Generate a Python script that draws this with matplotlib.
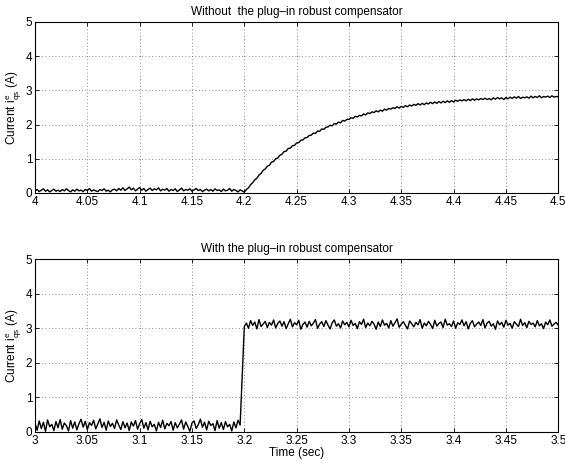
import matplotlib
matplotlib.use("Agg")
import matplotlib.pyplot as plt
import numpy as np
from matplotlib.ticker import FormatStrFormatter, MultipleLocator

plt.rcParams['font.family'] = ['Liberation Sans', 'DejaVu Sans']
plt.rcParams['mathtext.fontset'] = 'custom'
plt.rcParams['mathtext.rm'] = 'Liberation Sans'
plt.rcParams['mathtext.it'] = 'Liberation Sans'

# sample period of the recorded currents (sec)
dt = 0.002

# top: without compensator, starts at 4.0 s
t0_top = 4.0
i_top = [
    0.06, 0.10, 0.04, 0.08, 0.12, 0.05, 0.09, 0.03, 0.07, 0.11,
    0.05, 0.08, 0.04, 0.10, 0.06, 0.12, 0.07, 0.03, 0.09, 0.05,
    0.11, 0.06, 0.08, 0.04, 0.10, 0.07, 0.13, 0.05, 0.09, 0.06,
    0.04, 0.10, 0.07, 0.12, 0.05, 0.08, 0.03, 0.09, 0.11, 0.06,
    0.13, 0.08, 0.15, 0.07, 0.12, 0.17, 0.09, 0.14, 0.06, 0.11,
    0.16, 0.08, 0.13, 0.05, 0.10, 0.14, 0.07, 0.12, 0.09, 0.15,
    0.06, 0.11, 0.08, 0.13, 0.05, 0.10, 0.07, 0.12, 0.04, 0.09,
    0.14, 0.06, 0.10, 0.08, 0.12, 0.05, 0.09, 0.13, 0.07, 0.10,
    0.04, 0.08, 0.11, 0.06, 0.10, 0.05, 0.12, 0.07, 0.09, 0.04,
    0.11, 0.06, 0.08, 0.13, 0.05, 0.10, 0.07, 0.03, 0.09, 0.06,
    0.02, 0.10, 0.15, 0.24, 0.30, 0.38, 0.43, 0.52, 0.57, 0.66,
    0.70, 0.78, 0.81, 0.90, 0.92, 1.00, 1.02, 1.10, 1.13, 1.21,
    1.22, 1.30, 1.31, 1.38, 1.39, 1.46, 1.47, 1.54, 1.55, 1.61,
    1.62, 1.68, 1.69, 1.75, 1.74, 1.81, 1.80, 1.87, 1.86, 1.92,
    1.93, 1.98, 1.96, 2.03, 2.01, 2.07, 2.05, 2.12, 2.10, 2.15,
    2.15, 2.20, 2.18, 2.24, 2.22, 2.27, 2.25, 2.31, 2.28, 2.34,
    2.32, 2.37, 2.35, 2.40, 2.37, 2.42, 2.39, 2.45, 2.42, 2.47,
    2.45, 2.49, 2.47, 2.52, 2.48, 2.53, 2.50, 2.55, 2.52, 2.57,
    2.54, 2.59, 2.56, 2.61, 2.57, 2.62, 2.58, 2.63, 2.60, 2.65,
    2.61, 2.66, 2.62, 2.67, 2.63, 2.68, 2.64, 2.69, 2.65, 2.70,
    2.66, 2.71, 2.68, 2.72, 2.69, 2.73, 2.69, 2.74, 2.70, 2.75,
    2.71, 2.75, 2.72, 2.76, 2.73, 2.77, 2.73, 2.76, 2.72, 2.78,
    2.74, 2.79, 2.75, 2.78, 2.73, 2.79, 2.75, 2.80, 2.76, 2.81,
    2.77, 2.82, 2.76, 2.80, 2.78, 2.81, 2.77, 2.83, 2.78, 2.82,
    2.79, 2.84, 2.78, 2.82, 2.80, 2.83, 2.79, 2.84, 2.80, 2.82,
    2.81,
]

# bottom: with compensator, starts at 3.0 s
t0_bot = 3.0
i_bot = [
    0.25, 0.05, 0.32, 0.10, 0.28, 0.02, 0.35, 0.15, 0.22, 0.04,
    0.30, 0.12, 0.36, 0.08, 0.26, 0.18, 0.03, 0.33, 0.11, 0.29,
    0.06, 0.24, 0.37, 0.14, 0.31, 0.07, 0.27, 0.19, 0.34, 0.09,
    0.23, 0.38, 0.13, 0.28, 0.05, 0.32, 0.16, 0.25, 0.10, 0.35,
    0.20, 0.07, 0.30, 0.12, 0.26, 0.04, 0.29, 0.17, 0.33, 0.08,
    0.24, 0.36, 0.11, 0.27, 0.06, 0.31, 0.15, 0.22, 0.03, 0.28,
    0.13, 0.34, 0.09, 0.25, 0.18, 0.30, 0.05, 0.27, 0.12, 0.23,
    0.35, 0.08, 0.29, 0.16, 0.02, 0.26, 0.32, 0.10, 0.21, 0.37,
    0.14, 0.28, 0.06, 0.31, 0.19, 0.24, 0.04, 0.33, 0.11, 0.27,
    0.07, 0.30, 0.15, 0.22, 0.03, 0.29, 0.12, 0.34,
    0.20, 1.60, 3.05,
    3.15, 3.00, 3.22, 3.08, 3.18, 2.98, 3.25, 3.05, 3.12, 3.20,
    3.02, 3.17, 3.09, 3.24, 3.01, 3.14, 3.21, 3.06, 3.19, 2.99,
    3.13, 3.26, 3.04, 3.16, 3.10, 3.23, 2.97, 3.11, 3.18, 3.03,
    3.20, 3.07, 3.15, 3.25, 3.00, 3.12, 3.19, 3.05, 3.22, 3.09,
    2.98, 3.16, 3.24, 3.06, 3.13, 3.01, 3.21, 3.10, 3.17, 3.04,
    3.23, 3.08, 3.14, 2.99, 3.19, 3.11, 3.26, 3.02, 3.15, 3.07,
    3.20, 3.12, 2.97, 3.18, 3.05, 3.24, 3.09, 3.14, 3.01, 3.22,
    3.06, 3.16, 3.27, 3.03, 3.12, 3.19, 3.08, 2.98, 3.21, 3.13,
    3.04, 3.17, 3.10, 3.25, 3.00, 3.15, 3.07, 3.20, 3.11, 2.99,
    3.23, 3.06, 3.14, 3.18, 3.02, 3.26, 3.09, 3.13, 3.05, 3.21,
    3.00, 3.16, 3.11, 3.24, 3.07, 3.19, 2.98, 3.14, 3.22, 3.04,
    3.12, 3.18, 3.08, 3.25, 3.01, 3.15, 3.20, 3.06, 3.13, 2.97,
    3.21, 3.10, 3.17, 3.03, 3.23, 3.09, 3.14, 3.00, 3.19, 3.12,
    3.05, 3.26, 3.08, 3.16, 3.02, 3.20, 3.11, 3.15, 3.04, 3.22,
    3.07, 3.13, 2.99, 3.18, 3.10, 3.24, 3.06, 3.12, 3.17, 3.09,
]

titles = ['Without  the plug\u2013in robust compensator',
          'With the plug\u2013in robust compensator']
ylabel = r'Current i$^{e}_{qs}$ (A)'

fig = plt.figure(figsize=(5.65, 4.66), dpi=100)
ax1 = fig.add_axes([0.062, 0.586, 0.926, 0.367])
ax2 = fig.add_axes([0.062, 0.073, 0.926, 0.371])

fs = 8.5
panels = [(ax1, t0_top, i_top, titles[0]), (ax2, t0_bot, i_bot, titles[1])]
for ax, t0, vals, title in panels:
    t = t0 + dt * np.arange(len(vals))
    ax.plot(t, vals, color='black', linewidth=1.0)
    ax.set_xlim(t0, t0 + 0.5)
    ax.set_ylim(0, 5)
    ax.xaxis.set_major_locator(MultipleLocator(0.05))
    ax.yaxis.set_major_locator(MultipleLocator(1))
    ax.xaxis.set_major_formatter(FormatStrFormatter('%g'))
    ax.yaxis.set_major_formatter(FormatStrFormatter('%g'))
    ax.tick_params(direction='in', top=True, right=True, length=3,
                   width=0.6, labelsize=fs, pad=2)
    ax.grid(True, linestyle=(0, (1, 3)), color='0.4', linewidth=0.6)
    for s in ax.spines.values():
        s.set_linewidth(0.8)
    ax.set_title(title, fontsize=fs, pad=5)
    ax.set_ylabel(ylabel, fontsize=fs, labelpad=1)

ax2.set_xlabel('Time (sec)', fontsize=fs, labelpad=0)

fig.savefig('out.png', dpi=100)
